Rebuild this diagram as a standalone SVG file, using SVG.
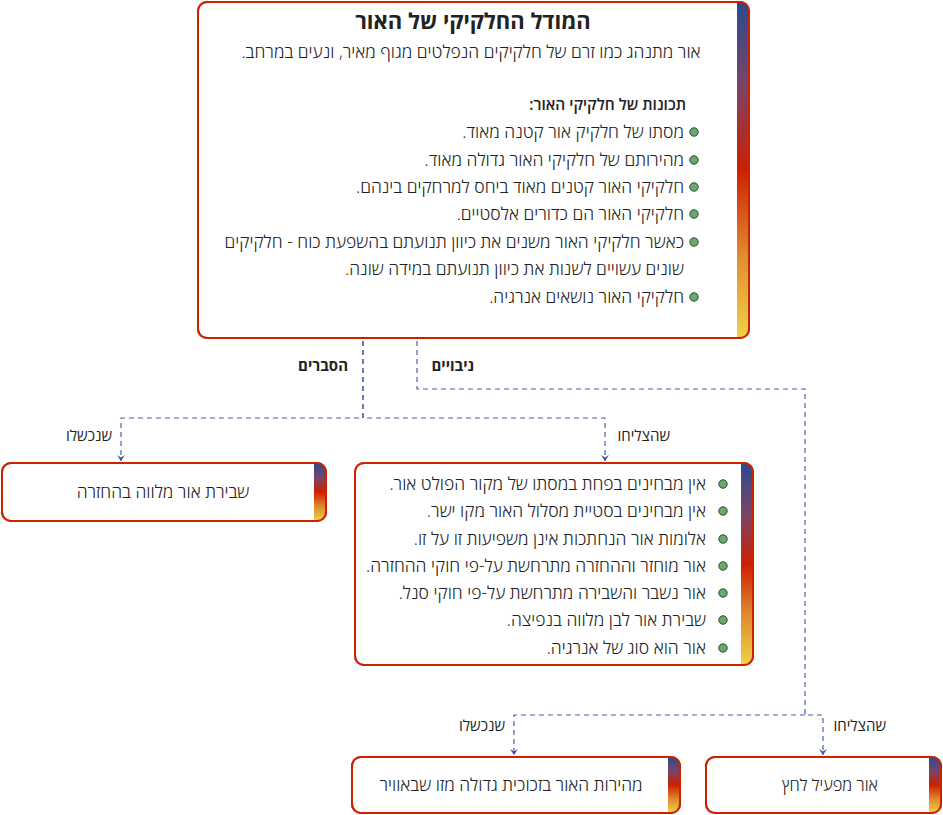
<svg xmlns="http://www.w3.org/2000/svg" width="943" height="815" viewBox="0 0 943 815">
<defs>
<linearGradient id="bar" x1="0" y1="0" x2="0" y2="1">
<stop offset="0" stop-color="#2b4a90"/>
<stop offset="0.25" stop-color="#7a4468"/>
<stop offset="0.5" stop-color="#cc2000"/>
<stop offset="0.75" stop-color="#e08a30"/>
<stop offset="1" stop-color="#f0d245"/>
</linearGradient>
<clipPath id="c0"><rect x="198" y="2" width="551" height="336" rx="9"/></clipPath>
<clipPath id="c1"><rect x="355" y="463" width="398" height="202" rx="9"/></clipPath>
<clipPath id="c2"><rect x="2" y="463" width="324" height="58" rx="9"/></clipPath>
<clipPath id="c3"><rect x="352" y="757" width="328" height="56" rx="9"/></clipPath>
<clipPath id="c4"><rect x="706" y="757" width="235" height="56" rx="9"/></clipPath>
<marker id="arrd" viewBox="0 0 10 8" refX="5" refY="7" markerWidth="10" markerHeight="8" markerUnits="userSpaceOnUse">
<path d="M1,1 L5,3.5 L9,1 L5,7 z" fill="#3a4f9f"/>
</marker>
</defs>
<style>
text{font-family:"Open Sans","Liberation Sans","DejaVu Sans",sans-serif;fill:#222;}
.node{fill:#fff;stroke:#cc2200;stroke-width:2;}
.bar{fill:url(#bar);}
.t{font-size:17.5px;font-weight:300;}
.title{font-size:22px;font-weight:bold;}
.b{font-size:15.5px;font-weight:600;}
.dot{fill:#6aa870;stroke:#2d4a30;stroke-width:1;}
.edge{fill:none;stroke:#4a5fa8;stroke-width:1.2;stroke-dasharray:5 4;}
.lbl{font-size:15px;}
</style>
<g id="edges">
<path class="edge" d="M363,341 V418 H605 V461" marker-end="url(#arrd)"/>
<path class="edge" d="M363,341 V418 H121 V461" marker-end="url(#arrd)"/>
<path class="edge" d="M417,341 V389 H805 V715 H823 V755" marker-end="url(#arrd)"/>
<path class="edge" d="M805,715 H514 V755" marker-end="url(#arrd)"/>
<text class="lbl" font-weight="bold" x="348" y="371" direction="rtl" text-anchor="start">הסברים</text>
<text class="lbl" font-weight="bold" x="474" y="371" direction="rtl" text-anchor="start">ניבויים</text>
<text class="lbl" x="112" y="441" direction="rtl" text-anchor="start">שנכשלו</text>
<text class="lbl" x="670" y="441" direction="rtl" text-anchor="start">שהצליחו</text>
<text class="lbl" x="505" y="731" direction="rtl" text-anchor="start">שנכשלו</text>
<text class="lbl" x="886" y="731" direction="rtl" text-anchor="start">שהצליחו</text>
</g>
<g id="main">
<rect class="node" x="198" y="2" width="551" height="336" rx="9"/>
<rect class="bar" x="737" y="2" width="12" height="336" clip-path="url(#c0)"/>
<rect x="198" y="2" width="551" height="336" rx="9" fill="none" stroke="#cc2200" stroke-width="2"/>
<text class="title" x="473" y="29" text-anchor="middle">המודל החלקיקי של האור</text>
<text class="t" x="471" y="58" text-anchor="middle" direction="rtl">אור מתנהג כמו זרם של חלקיקים הנפלטים מגוף מאיר, ונעים במרחב.</text>
<text class="b" x="686" y="110" direction="rtl" text-anchor="start">תכונות של חלקיקי האור:</text>
<circle class="dot" cx="694" cy="132" r="4.2"/>
<text class="t" x="684" y="138" direction="rtl" text-anchor="start">מסתו של חלקיק אור קטנה מאוד.</text>
<circle class="dot" cx="694" cy="160" r="4.2"/>
<text class="t" x="684" y="166" direction="rtl" text-anchor="start">מהירותם של חלקיקי האור גדולה מאוד.</text>
<circle class="dot" cx="694" cy="187" r="4.2"/>
<text class="t" x="684" y="193" direction="rtl" text-anchor="start">חלקיקי האור קטנים מאוד ביחס למרחקים בינהם.</text>
<circle class="dot" cx="694" cy="214" r="4.2"/>
<text class="t" x="684" y="220" direction="rtl" text-anchor="start">חלקיקי האור הם כדורים אלסטיים.</text>
<circle class="dot" cx="694" cy="242" r="4.2"/>
<text class="t" x="684" y="248" direction="rtl" text-anchor="start">כאשר חלקיקי האור משנים את כיוון תנועתם בהשפעת כוח - חלקיקים</text>
<text class="t" x="684" y="275" direction="rtl" text-anchor="start">שונים עשויים לשנות את כיוון תנועתם במידה שונה.</text>
<circle class="dot" cx="694" cy="297" r="4.2"/>
<text class="t" x="684" y="303" direction="rtl" text-anchor="start">חלקיקי האור נושאים אנרגיה.</text>
</g>
<g id="success1">
<rect class="node" x="355" y="463" width="398" height="202" rx="9"/>
<rect class="bar" x="741" y="463" width="12" height="202" clip-path="url(#c1)"/>
<rect x="355" y="463" width="398" height="202" rx="9" fill="none" stroke="#cc2200" stroke-width="2"/>
<circle class="dot" cx="723" cy="484" r="4.2"/>
<text class="t" x="706" y="490" direction="rtl" text-anchor="start">אין מבחינים בפחת במסתו של מקור הפולט אור.</text>
<circle class="dot" cx="723" cy="511" r="4.2"/>
<text class="t" x="706" y="517" direction="rtl" text-anchor="start">אין מבחינים בסטיית מסלול האור מקו ישר.</text>
<circle class="dot" cx="723" cy="539" r="4.2"/>
<text class="t" x="706" y="545" direction="rtl" text-anchor="start">אלומות אור הנחתכות אינן משפיעות זו על זו.</text>
<circle class="dot" cx="723" cy="566" r="4.2"/>
<text class="t" x="706" y="572" direction="rtl" text-anchor="start">אור מוחזר וההחזרה מתרחשת על-פי חוקי ההחזרה.</text>
<circle class="dot" cx="723" cy="593" r="4.2"/>
<text class="t" x="706" y="599" direction="rtl" text-anchor="start">אור נשבר והשבירה מתרחשת על-פי חוקי סנל.</text>
<circle class="dot" cx="723" cy="620" r="4.2"/>
<text class="t" x="706" y="626" direction="rtl" text-anchor="start">שבירת אור לבן מלווה בנפיצה.</text>
<circle class="dot" cx="723" cy="648" r="4.2"/>
<text class="t" x="706" y="654" direction="rtl" text-anchor="start">אור הוא סוג של אנרגיה.</text>
</g>
<g id="fail1">
<rect class="node" x="2" y="463" width="324" height="58" rx="9"/>
<rect class="bar" x="314" y="463" width="12" height="58" clip-path="url(#c2)"/>
<rect x="2" y="463" width="324" height="58" rx="9" fill="none" stroke="#cc2200" stroke-width="2"/>
<text class="t" x="163" y="498" text-anchor="middle" direction="rtl">שבירת אור מלווה בהחזרה</text>
</g>
<g id="fail2">
<rect class="node" x="352" y="757" width="328" height="56" rx="9"/>
<rect class="bar" x="668" y="757" width="12" height="56" clip-path="url(#c3)"/>
<rect x="352" y="757" width="328" height="56" rx="9" fill="none" stroke="#cc2200" stroke-width="2"/>
<text class="t" x="511" y="791" text-anchor="middle" direction="rtl">מהירות האור בזכוכית גדולה מזו שבאוויר</text>
</g>
<g id="success2">
<rect class="node" x="706" y="757" width="235" height="56" rx="9"/>
<rect class="bar" x="929" y="757" width="12" height="56" clip-path="url(#c4)"/>
<rect x="706" y="757" width="235" height="56" rx="9" fill="none" stroke="#cc2200" stroke-width="2"/>
<text class="t" x="830" y="791" text-anchor="middle" direction="rtl" style="font-size:16.5px">אור מפעיל לחץ</text>
</g>
</svg>
